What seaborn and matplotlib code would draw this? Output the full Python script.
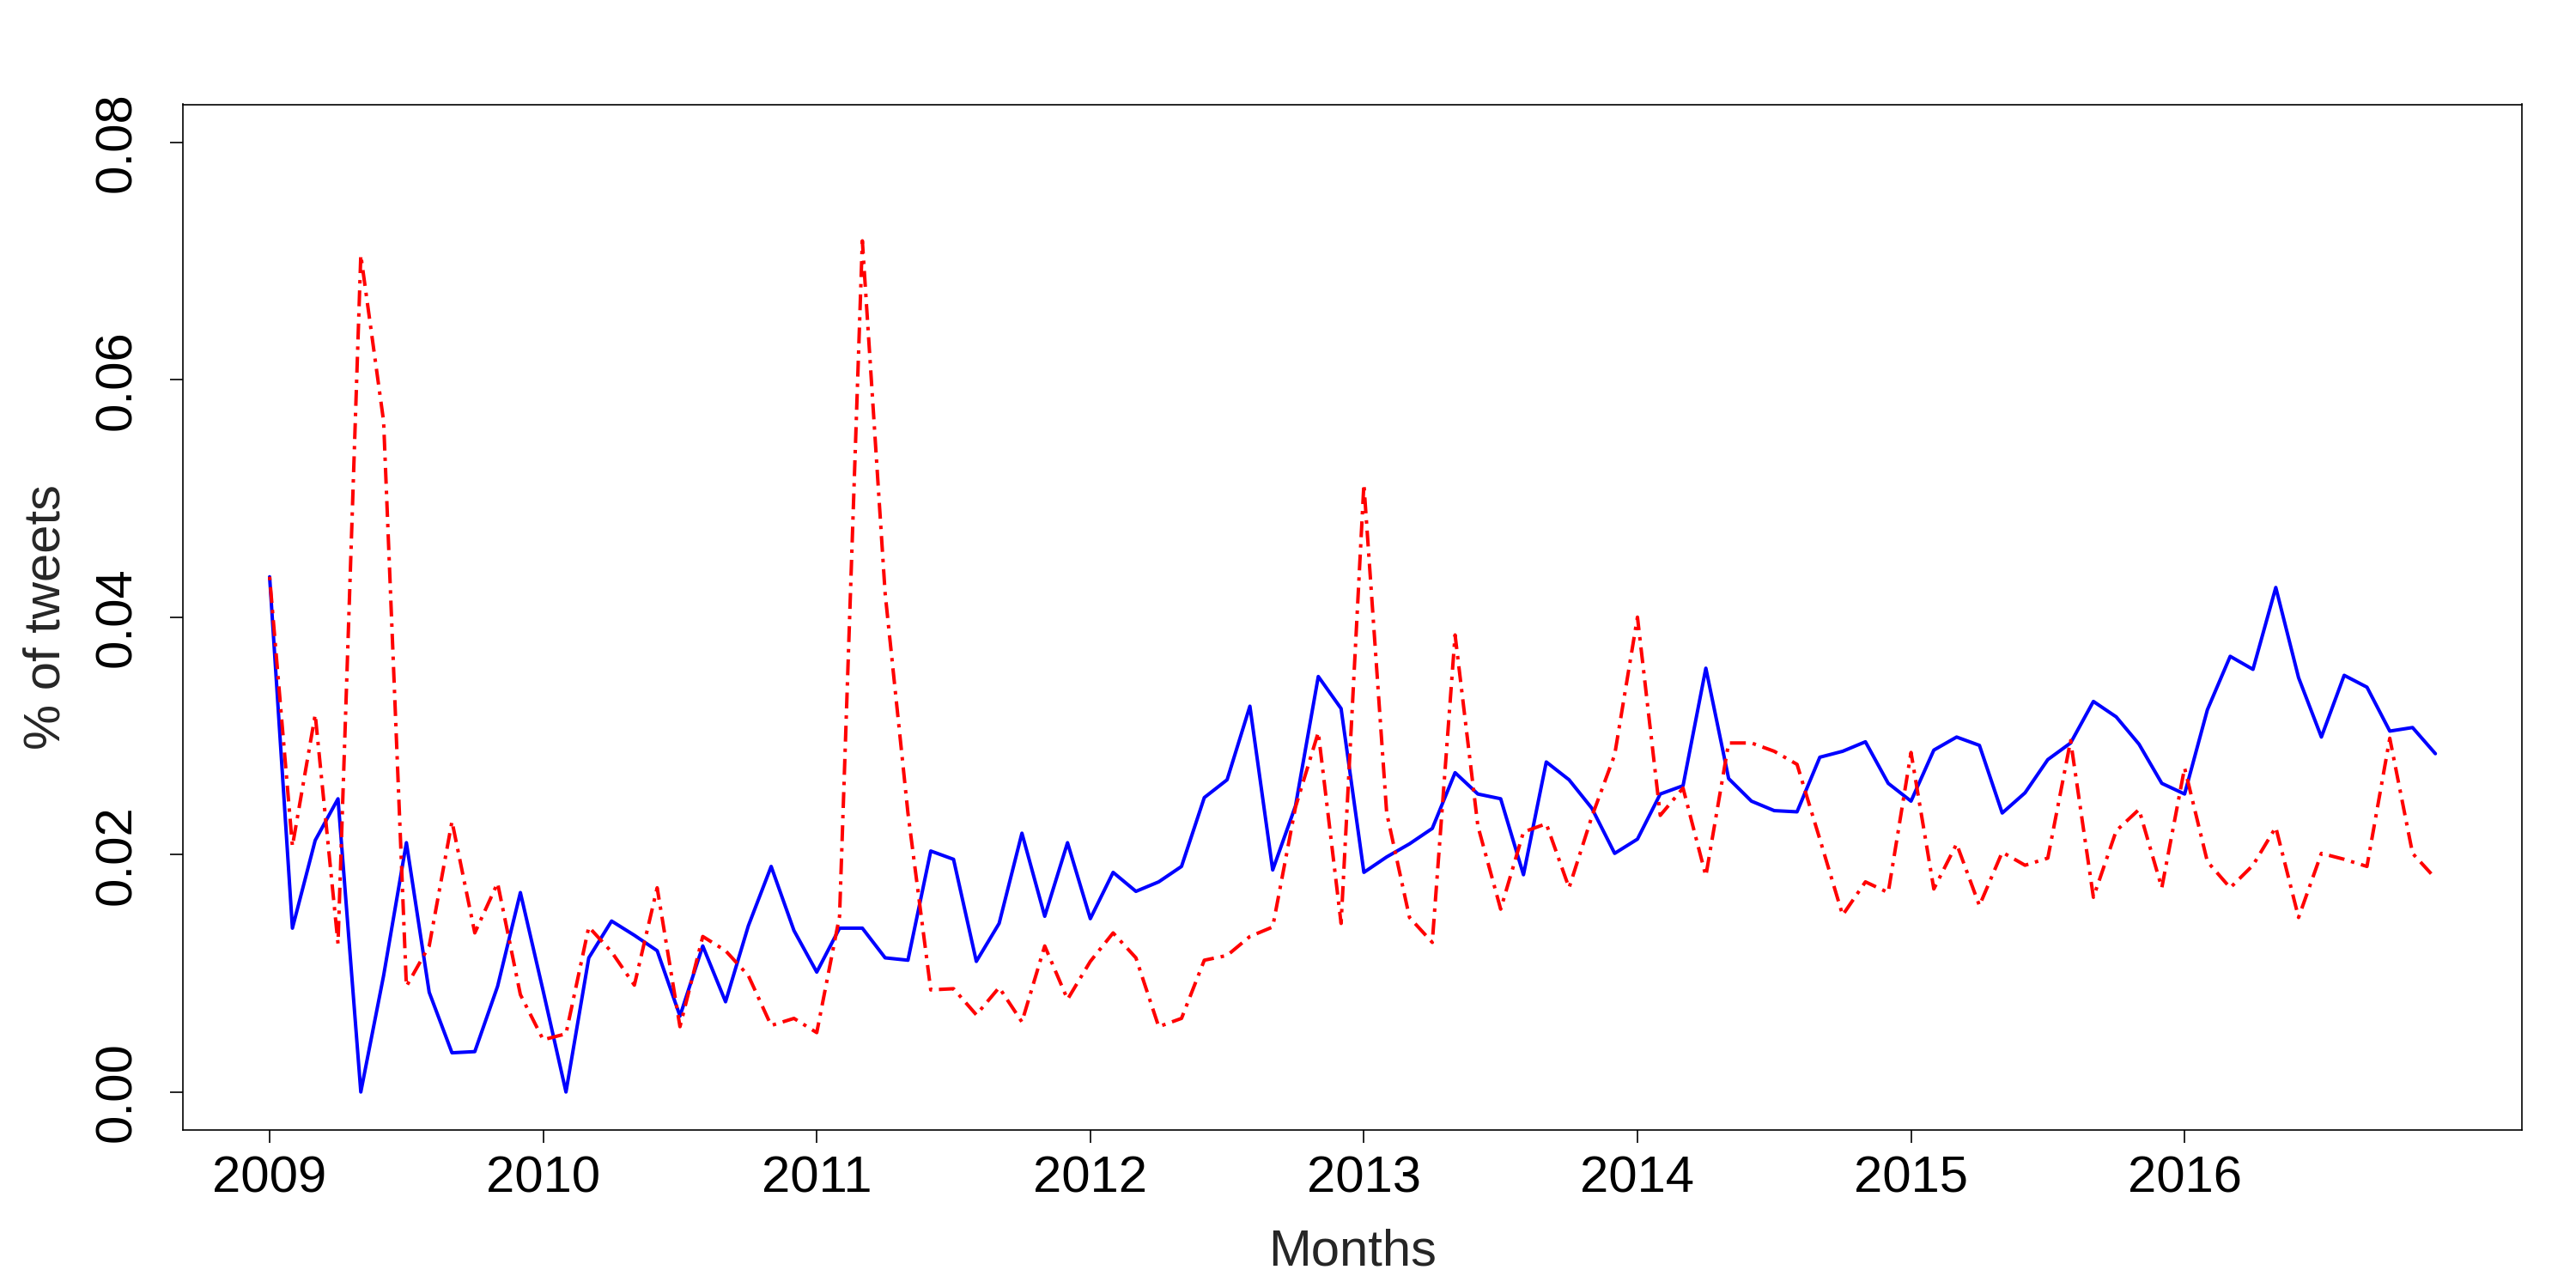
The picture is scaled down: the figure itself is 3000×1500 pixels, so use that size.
import numpy as np
import pandas as pd
import seaborn as sns
import matplotlib
matplotlib.use("Agg")
import matplotlib.pyplot as plt

# monthly values, Jan 2009 .. Dec 2016
years = list(range(2009, 2017))

blue_vals = [
    0.0434, 0.0138, 0.0212, 0.0247, 0.0000, 0.0098, 0.0210, 0.0084, 0.0033, 0.0034, 0.0089, 0.0168,
    0.0085, 0.0000, 0.0113, 0.0144, 0.0132, 0.0119, 0.0064, 0.0123, 0.0076, 0.0140, 0.0190, 0.0136,
    0.0101, 0.0138, 0.0138, 0.0113, 0.0111, 0.0203, 0.0196, 0.0110, 0.0142, 0.0218, 0.0148, 0.0210,
    0.0146, 0.0185, 0.0169, 0.0177, 0.0190, 0.0248, 0.0263, 0.0325, 0.0187, 0.0241, 0.0350, 0.0323,
    0.0185, 0.0198, 0.0209, 0.0222, 0.0269, 0.0251, 0.0247, 0.0183, 0.0278, 0.0263, 0.0239, 0.0201,
    0.0213, 0.0251, 0.0258, 0.0357, 0.0264, 0.0245, 0.0237, 0.0236, 0.0282, 0.0287, 0.0295, 0.0260,
    0.0245, 0.0288, 0.0299, 0.0292, 0.0235, 0.0252, 0.0280, 0.0294, 0.0329, 0.0316, 0.0293, 0.0260,
    0.0251, 0.0322, 0.0367, 0.0356, 0.0425, 0.0349, 0.0299, 0.0351, 0.0341, 0.0304, 0.0307, 0.0285,
]

red_vals = [
    0.0434, 0.0207, 0.0318, 0.0125, 0.0705, 0.0565, 0.0089, 0.0123, 0.0228, 0.0134, 0.0176, 0.0082,
    0.0044, 0.0049, 0.0139, 0.0118, 0.0090, 0.0172, 0.0055, 0.0131, 0.0119, 0.0098, 0.0056, 0.0062,
    0.0050, 0.0148, 0.0717, 0.0420, 0.0235, 0.0086, 0.0087, 0.0065, 0.0088, 0.0059, 0.0123, 0.0078,
    0.0110, 0.0134, 0.0113, 0.0055, 0.0062, 0.0111, 0.0115, 0.0131, 0.0139, 0.0240, 0.0303, 0.0142,
    0.0512, 0.0235, 0.0147, 0.0126, 0.0385, 0.0224, 0.0154, 0.0219, 0.0226, 0.0172, 0.0232, 0.0284,
    0.0400, 0.0233, 0.0256, 0.0182, 0.0294, 0.0294, 0.0287, 0.0276, 0.0213, 0.0149, 0.0177, 0.0168,
    0.0286, 0.0171, 0.0209, 0.0157, 0.0202, 0.0191, 0.0197, 0.0296, 0.0164, 0.0220, 0.0238, 0.0172,
    0.0273, 0.0194, 0.0172, 0.0191, 0.0223, 0.0147, 0.0201, 0.0196, 0.0190, 0.0298, 0.0201, 0.0180,
]

y_ticks = [0.00, 0.02, 0.04, 0.06, 0.08]
y_tick_labels = ["0.00", "0.02", "0.04", "0.06", "0.08"]

# time axis as decimal years
t = [y + m / 12 for y in years for m in range(12)]
df = pd.DataFrame({"t": t, "blue": blue_vals, "red": red_vals})

sns.set_style("white")
plt.rcParams["font.family"] = ["Liberation Sans", "DejaVu Sans"]

fig = plt.figure(figsize=(30, 15), dpi=100)
ax = fig.add_axes([0.071, 0.1227, 0.908, 0.7963])

sns.lineplot(data=df, x="t", y="blue", color="blue", ax=ax)
sns.lineplot(data=df, x="t", y="red", color="red", ax=ax)

# R-like line widths and the dot-dash pattern of the second series
ax.lines[0].set_linewidth(2.9)
ax.lines[1].set_linewidth(2.9)
ax.lines[1].set_linestyle((0, (1.0, 2.0, 4.6, 2.0)))

ax.set_xlim(2008.683, 2017.233)
ax.set_ylim(-0.0032, 0.0832)

ax.set_xticks(years)
ax.set_xticklabels([str(y) for y in years])
ax.set_yticks(y_ticks)
ax.set_yticklabels(y_tick_labels, rotation=90, va="center")

ax.tick_params(axis="both", which="major", direction="out", length=11, width=1.2,
               labelsize=43, colors="black", bottom=True, left=True, top=False, right=False)
ax.tick_params(axis="x", pad=10)
ax.tick_params(axis="y", pad=24)

for s in ax.spines.values():
    s.set_visible(True)
    s.set_color("black")
    s.set_linewidth(1.2)

ax.set_xlabel("Months", fontsize=43, labelpad=22)
ax.set_ylabel("% of tweets", fontsize=43, labelpad=20)
ax.grid(False)

fig.savefig("out.png", dpi=100, facecolor="white")
